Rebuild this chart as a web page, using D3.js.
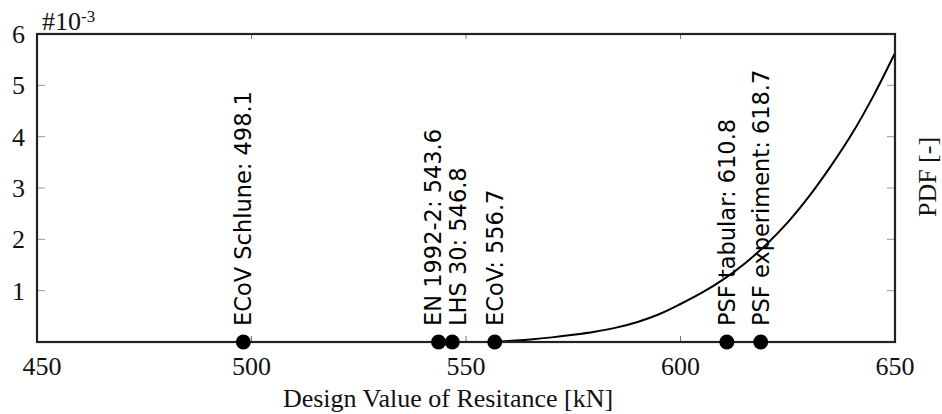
<!DOCTYPE html>
<html>
<head>
<meta charset="utf-8">
<script src="https://cdn.jsdelivr.net/npm/d3@7"></script>
<style>
  html, body { margin: 0; padding: 0; background: #fff; }
  svg { display: block; }
</style>
</head>
<body>
<svg id="chart" width="942" height="414"></svg>
<script>
// ---- data ----
const methods = ["ECoV Schlune", "EN 1992-2", "LHS 30", "ECoV", "PSF tabular", "PSF experiment"];
const designValues = [498.1, 543.6, 546.8, 556.7, 610.8, 618.7];

const pdfX = [556.7, 560, 565, 570, 575, 580, 585, 590, 595, 600, 605, 610, 615, 620, 625, 630, 635, 640, 645, 650];
const pdfY = [0.0, 0.02, 0.05, 0.09, 0.14, 0.20, 0.28, 0.39, 0.54, 0.74, 0.96, 1.22, 1.53, 1.90, 2.33, 2.84, 3.42, 4.06, 4.80, 5.63]; // ×10^-3

const xTicks = [450, 500, 550, 600, 650];
const yTicks = [1, 2, 3, 4, 5, 6];

// ---- layout ----
const svg = d3.select("#chart");
const m = { left: 37, top: 34, right: 47, bottom: 72 };
const W = 942, H = 414;
const pw = W - m.left - m.right, ph = H - m.top - m.bottom;

const x = d3.scaleLinear().domain([450, 650]).range([m.left, m.left + pw]);
const y = d3.scaleLinear().domain([0, 6]).range([m.top + ph, m.top]);

const serif = "'Liberation Serif', 'Times New Roman', serif";
const sans = "'DejaVu Sans', sans-serif";

// ticks: left & right inward
const yInner = yTicks.filter(t => t > 0 && t < 6);
const g = svg.append("g");
g.selectAll("line.yl").data(yInner).join("line")
  .attr("x1", m.left).attr("x2", m.left + 8)
  .attr("y1", d => y(d)).attr("y2", d => y(d))
  .attr("stroke", "#999").attr("stroke-width", 1);
g.selectAll("line.yr").data(yInner).join("line")
  .attr("x1", m.left + pw).attr("x2", m.left + pw - 8)
  .attr("y1", d => y(d)).attr("y2", d => y(d))
  .attr("stroke", "#999").attr("stroke-width", 1);
const xInner = xTicks.filter(t => t > 450 && t < 650);
g.selectAll("line.xb").data(xInner).join("line")
  .attr("x1", d => x(d)).attr("x2", d => x(d))
  .attr("y1", m.top + ph).attr("y2", m.top + ph - 6)
  .attr("stroke", "#777").attr("stroke-width", 1);
g.selectAll("line.xt").data(xInner).join("line")
  .attr("x1", d => x(d)).attr("x2", d => x(d))
  .attr("y1", m.top).attr("y2", m.top + 5)
  .attr("stroke", "#777").attr("stroke-width", 1);

// tick labels
svg.append("g").selectAll("text").data(yTicks).join("text")
  .attr("x", m.left - 12).attr("y", d => y(d))
  .attr("dy", "0.34em")
  .attr("text-anchor", "end")
  .attr("font-family", serif).attr("font-size", 26).attr("fill", "#111")
  .text(d => d);
svg.append("g").selectAll("text").data(xTicks).join("text")
  .attr("x", d => x(d) + (d === 450 ? 5 : 0)).attr("y", m.top + ph + 33)
  .attr("text-anchor", "middle")
  .attr("font-family", serif).attr("font-size", 26).attr("fill", "#111")
  .text(d => d);

// exponent label
const ex = svg.append("text")
  .attr("x", 42).attr("y", 30)
  .attr("font-family", serif).attr("font-size", 26).attr("fill", "#111");
ex.append("tspan").text("#10");
ex.append("tspan").attr("dy", -8).attr("font-size", 17).text("-3");

// axis titles
svg.append("text")
  .attr("x", 448).attr("y", 407)
  .attr("text-anchor", "middle")
  .attr("font-family", serif).attr("font-size", 26).attr("fill", "#111")
  .text("Design Value of Resitance [kN]");
svg.append("text")
  .attr("transform", `translate(927,177) rotate(-90)`)
  .attr("text-anchor", "middle").attr("dy", "0.34em")
  .attr("font-family", serif).attr("font-size", 26).attr("fill", "#111")
  .text("PDF [-]");

// curve
const pts = pdfX.map((v, i) => [v, pdfY[i]]);
const line = d3.line().x(d => x(d[0])).y(d => y(d[1])).curve(d3.curveCatmullRom);
svg.append("path")
  .attr("d", line(pts))
  .attr("fill", "none").attr("stroke", "#000").attr("stroke-width", 2);

// frame
svg.append("rect")
  .attr("x", m.left).attr("y", m.top).attr("width", pw).attr("height", ph)
  .attr("fill", "none").attr("stroke", "#222").attr("stroke-width", 2.2);

// label positions: separate labels that would overlap
const minGap = 25;
const lx = designValues.map(d => x(d));
for (let iter = 0; iter < 10; iter++) {
  for (let i = 1; i < lx.length; i++) {
    const gap = lx[i] - lx[i - 1];
    if (gap < minGap) {
      const s = (minGap - gap) / 2;
      lx[i - 1] -= s; lx[i] += s;
    }
  }
}

// markers + labels
const mk = svg.append("g");
mk.selectAll("circle").data(designValues).join("circle")
  .attr("cx", d => x(d)).attr("cy", y(0)).attr("r", 7.5).attr("fill", "#000");
mk.selectAll("text").data(designValues).join("text")
  .attr("transform", (d, i) => `translate(${lx[i]},${y(0) - 16}) rotate(-90)`)
  .attr("dy", "0.36em")
  .attr("font-family", sans).attr("font-size", 22.5).attr("fill", "#000")
  .text((d, i) => `${methods[i]}: ${d}`);
</script>
</body>
</html>
